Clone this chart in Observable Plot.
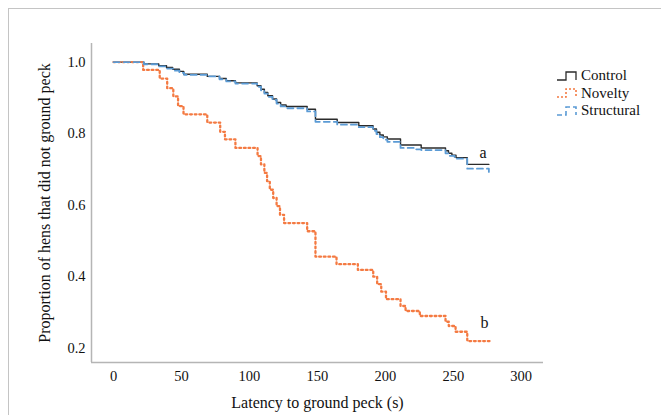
<!DOCTYPE html>
<html><head><meta charset="utf-8">
<script src="https://cdn.jsdelivr.net/npm/d3@7"></script>
<script src="https://cdn.jsdelivr.net/npm/@observablehq/plot@0.6"></script>
<style>
body{margin:0;background:#fff;font-family:"Liberation Serif","Times New Roman",serif;}
#wrap{position:relative;width:661px;height:415px;overflow:hidden;background:#fff;}
#border{position:absolute;left:8px;top:8px;width:800px;height:600px;border-top:1px solid #c4c4c4;border-left:1px solid #c4c4c4;}
#chart{position:absolute;left:0;top:0;}
#legend{position:absolute;left:556px;top:67px;font-size:15px;color:#111;line-height:17.5px;}
.row{display:flex;align-items:center;height:17.5px;}
.row svg{margin-right:2px;}
</style></head><body>
<div id="wrap"><div id="border"></div><div id="chart"></div><div id="legend"></div></div>
<script>
const groups = ["Control", "Novelty", "Structural"];
const groupColors = ["#2b2b2b", "#f47a42", "#5b9bd5"];

const controlTime = [0, 22.3, 33.3, 39, 43.5, 48.5, 51.7, 69, 78, 83, 89.7, 105.7, 108.5, 111, 113.5, 117, 120, 123, 127, 142.5, 148.6, 164.6, 180.5, 191, 193.5, 196, 198.5, 201.5, 211.2, 226.4, 244.3, 246.5, 249, 252, 260.3, 276.2];
const controlProp = [1.0, 0.995, 0.990, 0.985, 0.980, 0.974, 0.966, 0.960, 0.954, 0.948, 0.942, 0.934, 0.924, 0.915, 0.906, 0.897, 0.887, 0.880, 0.876, 0.868, 0.840, 0.831, 0.822, 0.813, 0.804, 0.796, 0.791, 0.785, 0.768, 0.760, 0.752, 0.745, 0.740, 0.733, 0.714, 0.714];

const noveltyTime = [0, 21.8, 34, 39.5, 44, 47.5, 51.5, 69, 78.5, 82, 89.7, 106, 108.5, 111, 113, 115, 117.5, 120, 122.5, 125.5, 142.5, 148.6, 164.1, 179.8, 191.1, 194, 197, 200.5, 211.2, 214.9, 225.4, 244.3, 246.7, 251.7, 260.3, 276.7];
const noveltyProp = [1.0, 0.978, 0.954, 0.927, 0.904, 0.877, 0.854, 0.831, 0.805, 0.784, 0.760, 0.737, 0.714, 0.690, 0.667, 0.643, 0.620, 0.597, 0.573, 0.550, 0.527, 0.456, 0.435, 0.419, 0.400, 0.379, 0.358, 0.337, 0.318, 0.304, 0.290, 0.274, 0.262, 0.246, 0.220, 0.218];

const structuralTime = [0, 22.3, 33, 39, 44, 48.5, 52, 69, 78, 83, 89.7, 105.7, 108.5, 111, 113.5, 117, 120, 123, 127, 142.5, 148.6, 164.6, 180.5, 191, 193.5, 196, 198.5, 201.5, 211.2, 222, 226.4, 244.3, 247, 251, 260.3, 276.2, 276.2];
const structuralProp = [1.0, 0.994, 0.988, 0.982, 0.976, 0.970, 0.964, 0.960, 0.952, 0.946, 0.940, 0.931, 0.921, 0.912, 0.903, 0.894, 0.884, 0.876, 0.871, 0.862, 0.833, 0.825, 0.818, 0.808, 0.799, 0.790, 0.783, 0.777, 0.760, 0.756, 0.754, 0.745, 0.738, 0.730, 0.702, 0.702, 0.693];

const xTicks = [0, 50, 100, 150, 200, 250, 300];
const yTicks = [0.2, 0.4, 0.6, 0.8, 1.0];
const annotLabels = ["a", "b"];
const annotTime = [272, 273];
const annotProp = [0.746, 0.272];

const xDomain = [-16.2, 316.4];
const yDomain = [0.16, 1.052];

const rows = [];
controlTime.forEach((t, i) => rows.push({group: "Control", t, p: controlProp[i]}));
noveltyTime.forEach((t, i) => rows.push({group: "Novelty", t, p: noveltyProp[i]}));
structuralTime.forEach((t, i) => rows.push({group: "Structural", t, p: structuralProp[i]}));
const annots = annotLabels.map((l, i) => ({l, t: annotTime[i], p: annotProp[i]}));

const font = "Liberation Serif, Times New Roman, serif";
const chart = Plot.plot({
  width: 661, height: 415,
  marginLeft: 91, marginRight: 118, marginTop: 43, marginBottom: 53,
  style: {fontFamily: font, fontSize: "14px", color: "#111", background: "transparent"},
  x: {domain: xDomain},
  y: {domain: yDomain},
  marks: [
    Plot.axisX({ticks: xTicks, tickSize: 0, tickPadding: 8, label: "Latency to ground peck (s)", labelAnchor: "center", labelArrow: "none", labelOffset: 45, dx: 0}),
    Plot.axisY({ticks: yTicks, tickSize: 0, tickPadding: 6, tickFormat: d3.format(".1f"), label: "Proportion of hens that did not ground peck", labelAnchor: "center", labelArrow: "none", labelOffset: 53}),
    Plot.ruleX([xDomain[0]], {stroke: "#b5b5b5", strokeWidth: 1.5}),
    Plot.ruleY([yDomain[0]], {stroke: "#b5b5b5", strokeWidth: 1.5}),
    Plot.line(rows.filter(d => d.group === "Control"), {x: "t", y: "p", curve: "step-after", stroke: groupColors[0], strokeWidth: 1.4}),
    Plot.line(rows.filter(d => d.group === "Novelty"), {x: "t", y: "p", curve: "step-after", stroke: groupColors[1], strokeWidth: 2.3, strokeDasharray: "1.8,2.8"}),
    Plot.line(rows.filter(d => d.group === "Structural"), {x: "t", y: "p", curve: "step-after", stroke: groupColors[2], strokeWidth: 1.8, strokeDasharray: "6,4"}),
    Plot.text(annots, {x: "t", y: "p", text: "l", fontSize: 16, fill: "#111"})
  ]
});
chart.querySelectorAll('g[aria-label$="tick label"]').forEach(g => { g.setAttribute("font-size", "14.5"); g.style.fontSize = "14.5px"; });
chart.querySelectorAll('g[aria-label$="axis label"]').forEach(g => { g.setAttribute("font-size", "16"); g.style.fontSize = "16px"; });
document.getElementById("chart").appendChild(chart);

const legend = document.getElementById("legend");
const dashes = ["none", "2,2", "5,3"];
groups.forEach((g, i) => {
  const row = document.createElement("div");
  row.className = "row";
  row.innerHTML = `<svg width="23" height="12"><polyline points="1,10 10,10 10,2 20,2 20,10" fill="none" stroke="${groupColors[i]}" stroke-width="${i===0?1.3:1.6}" stroke-dasharray="${dashes[i]}"/></svg><span>${g}</span>`;
  legend.appendChild(row);
});
</script>
</body></html>
